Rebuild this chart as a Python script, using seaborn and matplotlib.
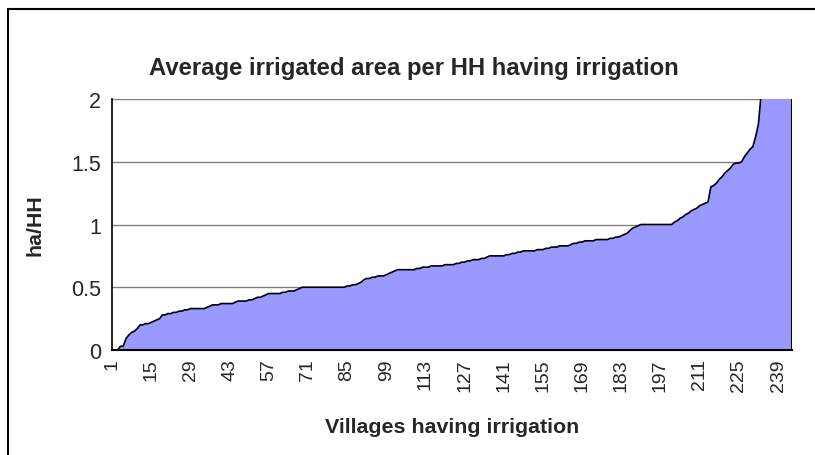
import matplotlib
matplotlib.use("Agg")
import matplotlib.pyplot as plt
import numpy as np
import pandas as pd
import seaborn as sns
from matplotlib.patches import Rectangle

# sorted average irrigated area per household (ha/HH), one value per village
avg_area = (
    [0.00, 0.00, 0.00, 0.03, 0.03, 0.09, 0.12, 0.14, 0.15, 0.17]
    + [0.20, 0.20, 0.21, 0.21, 0.22, 0.23, 0.24, 0.25, 0.28, 0.28]
    + [0.29, 0.29, 0.30, 0.30, 0.31, 0.31, 0.32, 0.32, 0.33, 0.33]
    + [0.33, 0.33, 0.33, 0.33, 0.34, 0.35, 0.36, 0.36, 0.36, 0.37]
    + [0.37, 0.37, 0.37, 0.37, 0.38, 0.39, 0.39, 0.39, 0.39, 0.40]
    + [0.40, 0.41, 0.42, 0.42, 0.43, 0.44, 0.45, 0.45, 0.45, 0.45]
    + [0.45, 0.46, 0.46, 0.47, 0.47, 0.47, 0.48, 0.49, 0.50, 0.50]
    + [0.50, 0.50, 0.50, 0.50, 0.50, 0.50, 0.50, 0.50, 0.50, 0.50]
    + [0.50, 0.50, 0.50, 0.50, 0.51, 0.51, 0.52, 0.52, 0.53, 0.54]
    + [0.56, 0.57, 0.57, 0.58, 0.58, 0.59, 0.59, 0.59, 0.60, 0.61]
    + [0.62, 0.63, 0.64, 0.64, 0.64, 0.64, 0.64, 0.64, 0.64, 0.65]
    + [0.65, 0.66, 0.66, 0.66, 0.67, 0.67, 0.67, 0.67, 0.67, 0.68]
    + [0.68, 0.68, 0.68, 0.69, 0.69, 0.70, 0.70, 0.71, 0.71, 0.72]
    + [0.72, 0.72, 0.73, 0.73, 0.74, 0.75, 0.75, 0.75, 0.75, 0.75]
    + [0.75, 0.76, 0.76, 0.77, 0.77, 0.78, 0.78, 0.79, 0.79, 0.79]
    + [0.79, 0.79, 0.80, 0.80, 0.80, 0.81, 0.81, 0.82, 0.82, 0.82]
    + [0.83, 0.83, 0.83, 0.83, 0.84, 0.85, 0.85, 0.86, 0.86, 0.87]
    + [0.87, 0.87, 0.87, 0.88, 0.88, 0.88, 0.88, 0.88, 0.89, 0.89]
    + [0.90, 0.90, 0.91, 0.92, 0.93, 0.95, 0.97, 0.98, 0.99, 1.00]
    + [1.00, 1.00, 1.00, 1.00, 1.00, 1.00, 1.00, 1.00, 1.00, 1.00]
    + [1.00, 1.02, 1.03, 1.05, 1.06, 1.08, 1.09, 1.11, 1.12, 1.13]
    + [1.15, 1.16, 1.17, 1.18, 1.30, 1.31, 1.33, 1.36, 1.38, 1.41]
    + [1.43, 1.45, 1.48, 1.49, 1.49, 1.50, 1.54, 1.57, 1.60, 1.62]
    + [1.70, 1.80, 2.05, 2.20, 2.40, 2.60, 2.80, 3.00, 3.30, 3.70]
    + [4.20, 5.00, 6.00, 8.00]
)
villages = list(range(1, len(avg_area) + 1))
label_every = 14
y_ticks = [0, 0.5, 1, 1.5, 2]
y_tick_labels = ["0", "0.5", "1", "1.5", "2"]

df = pd.DataFrame({"village": villages, "area": avg_area})

sns.set_style("white")
plt.rcParams["font.family"] = ["Liberation Sans", "DejaVu Sans"]

fig = plt.figure(figsize=(8.15, 4.56), dpi=100)
ax = fig.add_axes([112 / 815, 1 - 351 / 456, 680 / 815, 251 / 456])

ax.fill_between(df["village"], df["area"], color="#9999FF", lw=0, zorder=2)
sns.lineplot(data=df, x="village", y="area", color="black", lw=1.2, ax=ax, zorder=3)
ax.plot([villages[-1]] * 2, [0, 2], color="black", lw=1.5, zorder=3)

ax.set_xlim(1, villages[-1])
ax.set_ylim(0, 2)

# horizontal gridlines
for yv in y_ticks[1:]:
    ax.axhline(yv, color="#808080", lw=1, zorder=1)

ax.set_yticks(y_ticks)
ax.set_yticklabels(y_tick_labels, fontsize=15.5)
ax.set_xticks(villages)
ax.set_xticklabels([str(v) if (v - 1) % label_every == 0 else "" for v in villages],
                   rotation=90, fontsize=14)
ax.tick_params(axis="x", length=4, width=0.8, color="black", pad=2)
ax.tick_params(axis="y", length=5, width=1, color="#808080", pad=3)

for s in ["top", "right"]:
    ax.spines[s].set_visible(False)
ax.spines["left"].set_color("black")
ax.spines["bottom"].set_color("black")
ax.spines["left"].set_linewidth(1.2)
ax.spines["bottom"].set_linewidth(1.5)
ax.spines["bottom"].set_zorder(4)

ax.set_xlabel("Villages having irrigation", fontsize=15.4, fontweight="bold")
ax.xaxis.set_label_coords(0.5, -0.267)
ax.set_ylabel("ha/HH", fontsize=15.4, fontweight="bold")
ax.yaxis.set_label_coords(-0.1, 0.5)

fig.text(0.508, 1 - 68 / 456, "Average irrigated area per HH having irrigation",
         ha="center", va="center", fontsize=17.2, fontweight="bold")

# chart frame: only the top and left edges fall inside the image
fig.patches.append(Rectangle((8 / 815, -0.1), 1.2, 1.1 - 10 / 456, fill=False,
                             edgecolor="black", lw=1.5, transform=fig.transFigure))

plt.savefig("out.png", dpi=100)
plt.close()
